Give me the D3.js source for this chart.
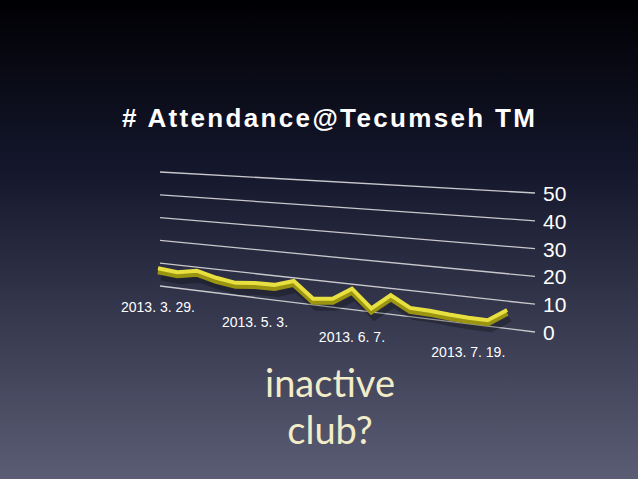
<!DOCTYPE html>
<html>
<head>
<meta charset="utf-8" />
<script src="https://cdn.jsdelivr.net/npm/d3@7"></script>
<style>
  body { margin: 0; background: #000; }
  svg { display: block; }
</style>
</head>
<body>
<svg id="chart" width="638" height="479"></svg>
<script>
// attendance per weekly meeting, 2013.3.29 .. 2013.8.2
var values = [7.8, 7.0, 8.6, 6.5, 5.3, 6.2, 6.3, 8.8, 2.5, 3.4, 8.3, 1.4, 7.4, 3.4, 3.2, 2.6, 2.3, 2.2, 6.8];
var dateLabels = ["2013. 3. 29.", "2013. 5. 3.", "2013. 6. 7.", "2013. 7. 19."];
var dateIndex = [0, 5, 10, 16];
var yTicks = [0, 10, 20, 30, 40, 50];

var svg = d3.select("#chart");
var defs = svg.append("defs");
var bg = defs.append("linearGradient").attr("id", "bg").attr("x1", 0).attr("y1", 0).attr("x2", 0).attr("y2", 1);
bg.append("stop").attr("offset", "0%").attr("stop-color", "#000003");
bg.append("stop").attr("offset", "35%").attr("stop-color", "#14172c");
bg.append("stop").attr("offset", "100%").attr("stop-color", "#5a5d73");
svg.append("rect").attr("width", 638).attr("height", 479).attr("fill", "url(#bg)");

svg.append("text").attr("x", 122).attr("y", 127)
  .attr("font-family", "Liberation Sans, Arial, sans-serif").attr("font-weight", "bold")
  .attr("font-size", 26).attr("textLength", 413).attr("fill", "#fff").text("# Attendance@Tecumseh TM");

// perspective: t runs 0..1 along the depth axis, values scale differently at each end
var tX = d3.scaleLinear().domain([0, 1]).range([158, 535]);
var yLeft = d3.scaleLinear().domain([0, 50]).range([286, 172]);
var yRight = d3.scaleLinear().domain([0, 50]).range([332, 193]);
function px(t) { return tX(t); }
function py(v, t) { return yLeft(v) * (1 - t) + yRight(v) * t; }
var idxT = d3.scaleLinear().domain([0, values.length - 1]).range([0, 0.926]);

// grid lines
svg.selectAll("line.grid").data(yTicks).enter().append("line")
  .attr("x1", px(0) + 2).attr("y1", function (d) { return py(d, 0); })
  .attr("x2", px(1)).attr("y2", function (d) { return py(d, 1); })
  .attr("stroke", "#c8c8cc").attr("stroke-width", 1.3);

svg.selectAll("text.ytick").data(yTicks).enter().append("text")
  .attr("x", px(1) + 8).attr("y", function (d) { return py(d, 1) + 8; })
  .attr("font-family", "Liberation Sans, Arial, sans-serif").attr("font-size", 21)
  .attr("fill", "#fff").text(function (d) { return d; });

// ribbon
var line = d3.line()
  .x(function (d, i) { return px(idxT(i)); })
  .y(function (d, i) { return py(d, idxT(i)); });
var shadow = d3.line()
  .x(function (d, i) { return px(idxT(i)) + 3; })
  .y(function (d, i) { return py(d, idxT(i)) + 9; });
svg.append("path").datum(values).attr("d", shadow).attr("fill", "none")
  .attr("stroke", "#000").attr("stroke-opacity", 0.25).attr("stroke-width", 6);
svg.append("path").datum(values).attr("d", line).attr("fill", "none")
  .attr("transform", "translate(0,3)")
  .attr("stroke", "#9a9410").attr("stroke-width", 6).attr("stroke-linejoin", "miter");
svg.append("path").datum(values).attr("d", line).attr("fill", "none")
  .attr("stroke", "#e8e040").attr("stroke-width", 4).attr("stroke-linejoin", "miter");

// date labels
svg.selectAll("text.date").data(dateLabels).enter().append("text")
  .attr("x", function (d, i) { return px(idxT(dateIndex[i])); })
  .attr("y", function (d, i) { return 312 + i * 15; })
  .attr("text-anchor", "middle")
  .attr("font-family", "Liberation Sans, Arial, sans-serif").attr("font-size", 14)
  .attr("fill", "#fff").text(function (d) { return d; });

svg.append("text").attr("x", 330).attr("y", 397).attr("text-anchor", "middle")
  .attr("font-family", "Lato, sans-serif").attr("font-size", 38)
  .attr("fill", "#f2ecc8").text("inactive");
svg.append("text").attr("x", 330).attr("y", 444).attr("text-anchor", "middle")
  .attr("font-family", "Lato, sans-serif").attr("font-size", 38)
  .attr("fill", "#f2ecc8").text("club?");
</script>
</body>
</html>
